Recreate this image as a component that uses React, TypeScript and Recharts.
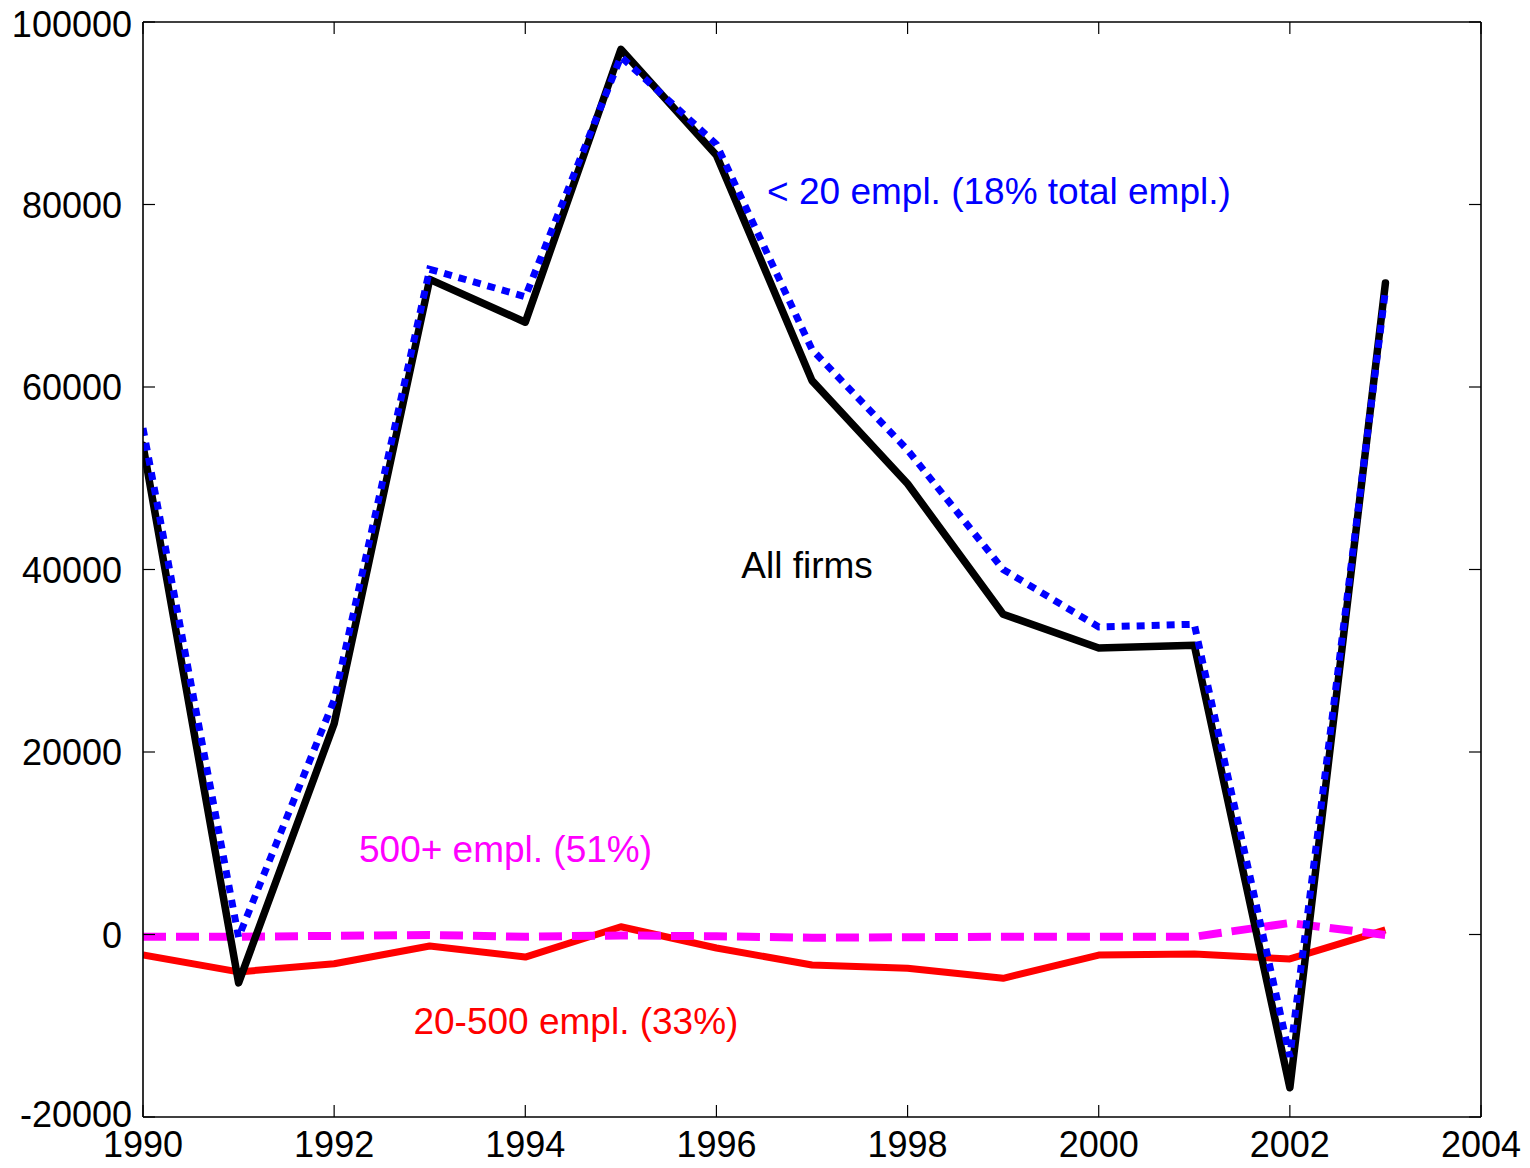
import React from "react";
import { LineChart, Line, XAxis, YAxis, ReferenceDot } from "recharts";

const years = [1990, 1991, 1992, 1993, 1994, 1995, 1996, 1997, 1998, 1999, 2000, 2001, 2002, 2003];
const allFirms = [53600, -5300, 23100, 71800, 67100, 97000, 85400, 60700, 49400, 35100, 31400, 31700, -16800, 71400];
const under20 = [55500, -300, 25700, 72900, 69900, 96200, 86600, 64100, 53100, 40000, 33700, 34000, -13400, 70600];
const mid20to500 = [-2250, -4100, -3200, -1260, -2470, 850, -1480, -3340, -3700, -4800, -2250, -2140, -2680, 500];
const over500 = [-250, -250, -150, -50, -250, -100, -200, -350, -300, -250, -250, -250, 1260, -50];

const xTicks = [1990, 1992, 1994, 1996, 1998, 2000, 2002, 2004];
const yTicks = [-20000, 0, 20000, 40000, 60000, 80000, 100000];

const annotations = [
  { text: "< 20 empl. (18% total empl.)", year: 1996.53, value: 80100, color: "#0000ff" },
  { text: "All firms", year: 1996.26, value: 39100, color: "#000000" },
  { text: "500+ empl. (51%)", year: 1992.26, value: 7900, color: "#ff00ff" },
  { text: "20-500 empl. (33%)", year: 1992.83, value: -10900, color: "#ff0000" },
];

const data = years.map((y, i) => ({
  year: y,
  all: allFirms[i],
  small: under20[i],
  mid: mid20to500[i],
  large: over500[i],
}));

const FONT = '"Liberation Sans", Arial, Helvetica, sans-serif';
const TICK_FONT = 36;
const ANNO_FONT = 37;
const TICK_LEN = 12;
const axisLineStyle = { stroke: "#000", strokeWidth: 1.6 };

const BottomTick = (p: any) => (
  <g>
    <line x1={p.x} x2={p.x} y1={p.y} y2={p.y - TICK_LEN} stroke="#000" strokeWidth={1.2} />
    <text x={p.x} y={p.y + 40} textAnchor="middle" fill="#000" fontSize={TICK_FONT} fontFamily={FONT}>
      {p.payload.value}
    </text>
  </g>
);

const TopTick = (p: any) => (
  <line x1={p.x} x2={p.x} y1={p.y} y2={p.y + TICK_LEN} stroke="#000" strokeWidth={1.2} />
);

const LeftTick = (p: any) => {
  const v = p.payload.value;
  const top = v === 100000;
  const bottom = v === -20000;
  const dx = top || bottom ? 11 : 21;
  const dy = top ? 15 : bottom ? 10 : 13;
  return (
    <g>
      <line x1={p.x} x2={p.x + TICK_LEN} y1={p.y} y2={p.y} stroke="#000" strokeWidth={1.2} />
      <text x={p.x - dx} y={p.y + dy} textAnchor="end" fill="#000" fontSize={TICK_FONT} fontFamily={FONT}>
        {v}
      </text>
    </g>
  );
};

const RightTick = (p: any) => (
  <line x1={p.x} x2={p.x - TICK_LEN} y1={p.y} y2={p.y} stroke="#000" strokeWidth={1.2} />
);

export default function App() {
  return (
    <div style={{ position: "absolute", left: 0, top: 0, width: 1530, height: 1168, overflow: "hidden", background: "#fff" }}>
      <LineChart
        width={1530}
        height={1168}
        data={data}
        margin={{ top: 21, right: 48, bottom: 11, left: 0 }}
      >
        <XAxis
          dataKey="year"
          type="number"
          domain={[1990, 2004]}
          ticks={xTicks}
          interval={0}
          allowDataOverflow
          height={40}
          tickSize={0}
          tickMargin={0}
          axisLine={axisLineStyle}
          tickLine={false}
          tick={BottomTick}
        />
        <XAxis
          xAxisId="top"
          orientation="top"
          dataKey="year"
          type="number"
          domain={[1990, 2004]}
          ticks={xTicks}
          interval={0}
          allowDataOverflow
          height={1}
          tickSize={0}
          tickMargin={0}
          axisLine={axisLineStyle}
          tickLine={false}
          tick={TopTick}
        />
        <YAxis
          type="number"
          domain={[-20000, 100000]}
          ticks={yTicks}
          interval={0}
          allowDataOverflow
          width={143}
          tickSize={0}
          tickMargin={0}
          axisLine={axisLineStyle}
          tickLine={false}
          tick={LeftTick}
        />
        <YAxis
          yAxisId="right"
          orientation="right"
          type="number"
          domain={[-20000, 100000]}
          ticks={yTicks}
          interval={0}
          allowDataOverflow
          width={1}
          tickSize={0}
          tickMargin={0}
          axisLine={axisLineStyle}
          tickLine={false}
          tick={RightTick}
        />
        <Line
          dataKey="mid"
          type="linear"
          stroke="#ff0000"
          strokeWidth={7}
          strokeLinejoin="round"
          dot={false}
          isAnimationActive={false}
        />
        <Line
          dataKey="large"
          type="linear"
          stroke="#ff00ff"
          strokeWidth={8}
          strokeDasharray="23 10"
          dot={false}
          isAnimationActive={false}
        />
        <Line
          dataKey="all"
          type="linear"
          stroke="#000000"
          strokeWidth={7.5}
          strokeLinejoin="round"
          strokeLinecap="round"
          dot={false}
          isAnimationActive={false}
        />
        <Line
          dataKey="small"
          type="linear"
          stroke="#0000ff"
          strokeWidth={7}
          strokeDasharray="8 7"
          dot={false}
          isAnimationActive={false}
        />
        {annotations.map((a) => (
          <ReferenceDot
            key={a.text}
            x={a.year}
            y={a.value}
            r={0}
            ifOverflow="visible"
            shape={(p: any) => (
              <text x={p.cx} y={p.cy} fill={a.color} fontSize={ANNO_FONT} fontFamily={FONT} textAnchor="start">
                {a.text}
              </text>
            )}
          />
        ))}
      </LineChart>
    </div>
  );
}
